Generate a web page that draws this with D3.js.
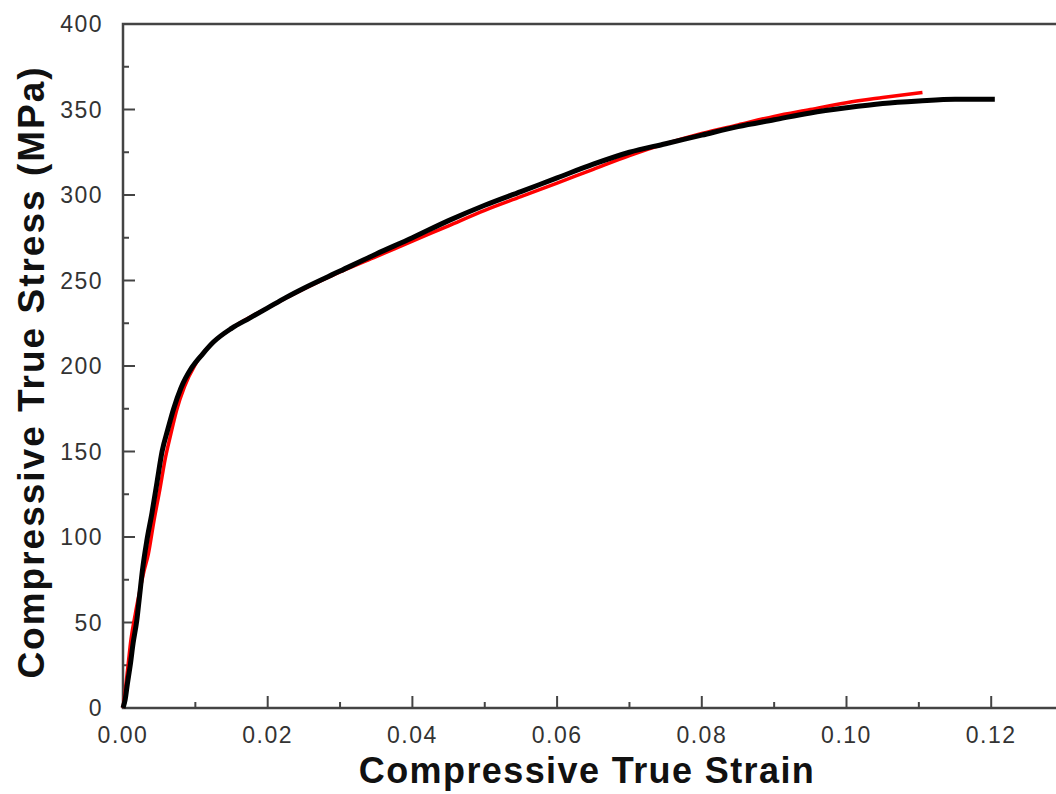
<!DOCTYPE html>
<html>
<head>
<meta charset="utf-8">
<script src="https://cdn.jsdelivr.net/npm/d3@7"></script>
<style>
  html, body { margin: 0; padding: 0; background: #fff; }
  svg { display: block; }
</style>
</head>
<body>
<svg id="chart" width="1056" height="794"></svg>
<script>
// Measured compression curve (black) and model curve (red)
const measuredStrain = [0, 0.0003, 0.0006, 0.0010, 0.0014, 0.0019, 0.0023, 0.0027, 0.0033, 0.0040,
  0.0047, 0.0054, 0.0062, 0.0070, 0.0080, 0.0095, 0.0110, 0.0125, 0.0150, 0.0175,
  0.0200, 0.0225, 0.0250, 0.0300, 0.0350, 0.0400, 0.0450, 0.0500, 0.0550, 0.0600,
  0.0650, 0.0700, 0.0750, 0.0800, 0.0850, 0.0900, 0.0950, 0.1000, 0.1050, 0.1100,
  0.1150, 0.1205];
const measuredStress = [0, 5, 14, 25, 38, 51, 66, 81, 98, 114,
  132, 150, 163, 175, 187, 199, 207, 214, 222, 228,
  234, 240, 245.5, 255.5, 265.5, 275, 285, 294, 302, 310,
  318, 325, 330, 335, 340, 344, 348, 351, 353.5, 355,
  356, 356];

const modelStrain = [0, 0.0003, 0.0007, 0.0011, 0.0017, 0.0023, 0.0029, 0.0035, 0.0043, 0.0051,
  0.0058, 0.0066, 0.0074, 0.0085, 0.0100, 0.0120, 0.0150, 0.0200, 0.0250, 0.0300,
  0.0350, 0.0400, 0.0450, 0.0500, 0.0550, 0.0600, 0.0650, 0.0700, 0.0750, 0.0800,
  0.0850, 0.0900, 0.0950, 0.1000, 0.1050, 0.1105];
const modelStress = [0, 10, 25, 40, 55, 68, 80, 90, 110, 128,
  145, 160, 174, 188, 201, 212, 222, 234, 245, 255,
  264, 273, 282, 291, 299, 307, 315, 323, 330, 336,
  341, 346, 350, 354, 357, 360];

const xTicks = [0, 0.02, 0.04, 0.06, 0.08, 0.10, 0.12];
const yTicks = [0, 50, 100, 150, 200, 250, 300, 350, 400];
const xMinorTicks = [0.01, 0.03, 0.05, 0.07, 0.09, 0.11];
const yMinorTicks = [25, 75, 125, 175, 225, 275, 325, 375];

const svg = d3.select("#chart");
const plotLeft = 123, plotTop = 24, plotBottom = 708;
const x = d3.scaleLinear().domain([0, 0.13]).range([plotLeft, plotLeft + 0.13 / 0.02 * 144.7]);
const y = d3.scaleLinear().domain([0, 400]).range([plotBottom, plotTop]);

const axisColor = "#444";

// Frame
svg.append("rect")
  .attr("x", x(0)).attr("y", y(400))
  .attr("width", x(0.13) - x(0)).attr("height", y(0) - y(400))
  .attr("fill", "none").attr("stroke", axisColor).attr("stroke-width", 2.5);

// Inward ticks
const g = svg.append("g").attr("stroke", axisColor).attr("stroke-width", 2);
g.selectAll(".xt").data(xTicks.filter(d => d > 0)).join("line")
  .attr("x1", d => x(d)).attr("x2", d => x(d))
  .attr("y1", plotBottom).attr("y2", plotBottom - 12);
g.selectAll(".xm").data(xMinorTicks).join("line")
  .attr("x1", d => x(d)).attr("x2", d => x(d))
  .attr("y1", plotBottom).attr("y2", plotBottom - 6);
g.selectAll(".yt").data(yTicks.filter(d => d > 0 && d < 400)).join("line")
  .attr("x1", plotLeft).attr("x2", plotLeft + 12)
  .attr("y1", d => y(d)).attr("y2", d => y(d));
g.selectAll(".ym").data(yMinorTicks).join("line")
  .attr("x1", plotLeft).attr("x2", plotLeft + 6)
  .attr("y1", d => y(d)).attr("y2", d => y(d));

// Tick labels
const labelStyle = sel => sel
  .attr("font-family", "Liberation Sans, Arial, sans-serif")
  .attr("font-size", 23)
  .attr("letter-spacing", "1.5px")
  .attr("fill", "#333");

svg.append("g").selectAll("text").data(xTicks).join("text")
  .call(labelStyle)
  .attr("x", d => x(d)).attr("y", 743)
  .attr("text-anchor", "middle")
  .text(d => d3.format(".2f")(d));

svg.append("g").selectAll("text").data(yTicks).join("text")
  .call(labelStyle)
  .attr("x", 103).attr("y", d => y(d) + 8)
  .attr("text-anchor", "end")
  .text(d => d);

// Axis titles
svg.append("text")
  .attr("x", 587).attr("y", 783)
  .attr("text-anchor", "middle")
  .attr("font-family", "Liberation Sans, Arial, sans-serif")
  .attr("font-weight", "bold").attr("font-size", 36)
  .attr("letter-spacing", "1.4px")
  .attr("fill", "#111")
  .text("Compressive True Strain");

svg.append("text")
  .attr("transform", "translate(44,372) rotate(-90)")
  .attr("text-anchor", "middle")
  .attr("font-family", "Liberation Sans, Arial, sans-serif")
  .attr("font-weight", "bold").attr("font-size", 37)
  .attr("letter-spacing", "2px")
  .attr("fill", "#111")
  .text("Compressive True Stress (MPa)");

// Curves
const line = d3.line().x(d => x(d[0])).y(d => y(d[1])).curve(d3.curveMonotoneX);
const model = modelStrain.map((s, i) => [s, modelStress[i]]);
const measured = measuredStrain.map((s, i) => [s, measuredStress[i]]);

svg.append("path").datum(model)
  .attr("d", line).attr("fill", "none")
  .attr("stroke", "#ff0000").attr("stroke-width", 3.5);

svg.append("path").datum(measured)
  .attr("d", line).attr("fill", "none")
  .attr("stroke", "#000").attr("stroke-width", 5)
  .attr("stroke-linejoin", "round");
</script>
</body>
</html>
